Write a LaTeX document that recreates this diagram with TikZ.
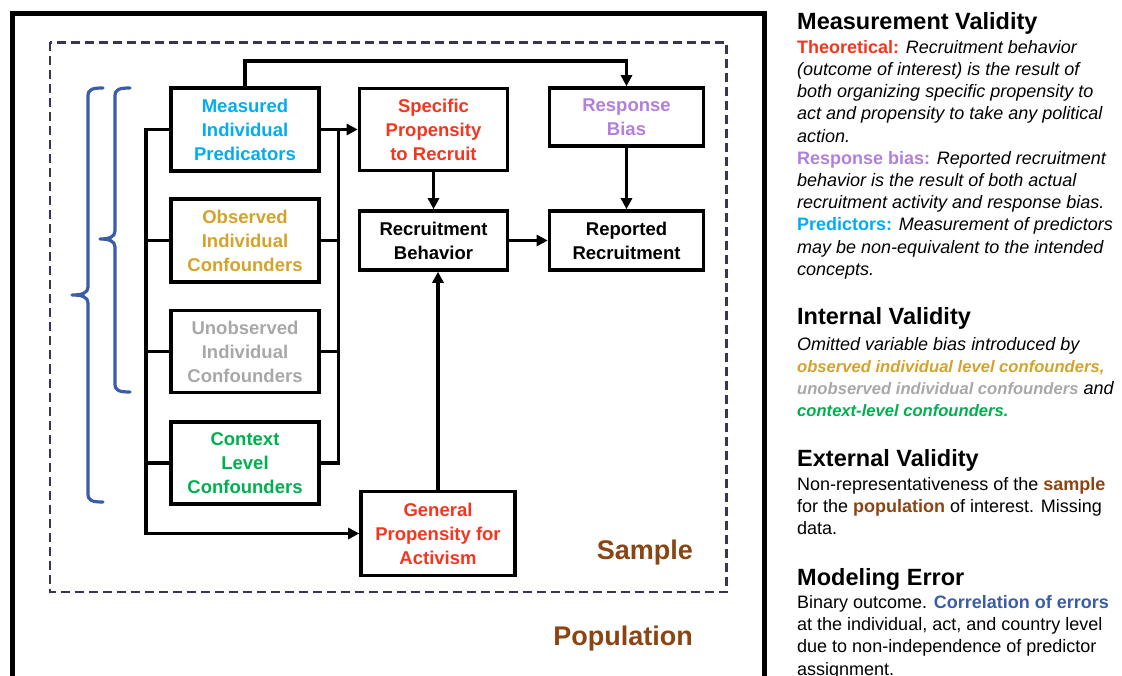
\documentclass[tikz,border=0pt]{standalone}
\usepackage{fontspec}
\setmainfont{Liberation Sans}
\usetikzlibrary{arrows.meta}

\definecolor{cred}{HTML}{F4361E}
\definecolor{ccyan}{HTML}{00AEEF}
\definecolor{cgold}{HTML}{D5A22B}
\definecolor{cgray}{HTML}{A8A8A8}
\definecolor{cgreen}{HTML}{00B050}
\definecolor{cpurple}{HTML}{B27FDB}
\definecolor{cbrown}{HTML}{8B4513}
\definecolor{cblue}{HTML}{3B5CA6}
\definecolor{cdash}{HTML}{3B3355}

\newcommand{\clab}[2]{\textbf{\textcolor{#1}{#2}}}
\newcommand{\cbi}[2]{{\fontsize{16.6}{22}\selectfont\textbf{\textit{\textcolor{#1}{#2}}}}}

\begin{document}
\begin{tikzpicture}[x=1pt,y=-1pt,
  box/.style={draw=black, line width=3.6pt, align=center, inner sep=0pt,
    font=\fontsize{18.5}{24}\selectfont\bfseries},
  conn/.style={line width=3.6pt, draw=black},
  arr/.style={conn, -{Triangle[length=11pt,width=11pt]}},
  brace/.style={draw=cblue, line width=3.2pt, line cap=round, line join=round},
  txt/.style={anchor=base west, inner sep=0pt, font=\fontsize{18}{22}\selectfont},
  head/.style={anchor=base west, inner sep=0pt, font=\fontsize{23.5}{28}\selectfont\bfseries},
  big/.style={anchor=base east, inner sep=0pt, text=cbrown, font=\fontsize{27}{32}\selectfont\bfseries}]
\useasboundingbox (0,0) rectangle (1122,676);

% population frame (open at the bottom edge)
\draw[line width=5pt, line join=miter] (12.5,690) -- (12.5,13.5) -- (764,13.5) -- (764,690);
% sample frame
\draw[cdash, line width=2.8pt, dash pattern=on 9pt off 5pt] (50,42.5) rectangle (726.5,592);

% braces
\draw[brace] (103,88) .. controls (93,88) and (88,89) .. (88,96) -- (88,287)
  .. controls (88,293) and (82,295) .. (72,295)
  .. controls (82,295) and (88,297) .. (88,303) -- (88,494)
  .. controls (88,501) and (93,502) .. (103,502);
\draw[brace] (130,88) .. controls (120,88) and (115,89) .. (115,96) -- (115,231)
  .. controls (115,237) and (109,239) .. (100,239)
  .. controls (109,239) and (115,241) .. (115,247) -- (115,384)
  .. controls (115,391) and (120,392) .. (130,392);

% boxes
\node[box, minimum width=148pt, minimum height=83pt, text=ccyan] (meas) at (245,129.5) {Measured\\Individual\\Predicators};
\node[box, minimum width=148pt, minimum height=83pt, text=cgold] (obs) at (245,240.5) {Observed\\Individual\\Confounders};
\node[box, minimum width=148pt, minimum height=82pt, text=cgray] (unobs) at (245,351.5) {Unobserved\\Individual\\Confounders};
\node[box, minimum width=148pt, minimum height=82pt, text=cgreen] (ctx) at (245,463) {Context\\Level\\Confounders};
\node[box, minimum width=148pt, minimum height=82pt, text=cred] (spec) at (433.5,129.5) {Specific\\Propensity\\to Recruit};
\node[box, minimum width=154pt, minimum height=58pt, text=cpurple] (resp) at (626.5,117) {Response\\Bias};
\node[box, minimum width=148pt, minimum height=59pt, text=black] (beh) at (433.5,240.5) {Recruitment\\Behavior};
\node[box, minimum width=154pt, minimum height=59pt, text=black] (rep) at (626.5,240.5) {Reported\\Recruitment};
\node[box, minimum width=154pt, minimum height=84pt, text=cred] (gen) at (438,533.5) {General\\Propensity for\\Activism};

% bus points
\coordinate (ttop) at (245,61);
\coordinate (lbus) at (146,533.5);
\coordinate (rtop) at (338.5,129.5);

% connectors
\draw[arr] (meas.north) -- (ttop) -| (resp.north);
\draw[arr] (meas.west) -| (lbus) -- (gen.west);
\draw[conn] (obs.west) -- (obs.west -| lbus);
\draw[conn] (unobs.west) -- (unobs.west -| lbus);
\draw[conn] (ctx.west) -- (ctx.west -| lbus);
\draw[conn] (ctx.east) -| (rtop);
\draw[conn] (obs.east) -- (obs.east -| rtop);
\draw[conn] (unobs.east) -- (unobs.east -| rtop);
\draw[arr] (meas.east) -- (spec.west);
\draw[arr] (spec.south) -- (beh.north);
\draw[arr] (resp.south) -- (rep.north);
\draw[arr] (beh.east) -- (rep.west);
\draw[arr] (gen.north) -- (gen.north |- beh.south);

% frame labels
\node[big] (samp) at (693,559.3) {Sample};
\node[big] (pop) at (693,645) {Population};

% measurement validity
\node[head] (h1) at (797,29.5) {Measurement Validity};
\node[txt] (m1) at (797,53.3) {\clab{cred}{Theoretical:} \textit{Recruitment behavior}};
\node[txt] (m2) at (797,75.5) {\textit{(outcome of interest) is the result of}};
\node[txt] (m3) at (797,97.7) {\textit{both organizing specific propensity to}};
\node[txt] (m4) at (797,119.9) {\textit{act and propensity to take any political}};
\node[txt] (m5) at (797,142.1) {\textit{action.}};
\node[txt] (m6) at (797,164.3) {\clab{cpurple}{Response bias:} \textit{Reported recruitment}};
\node[txt] (m7) at (797,186.5) {\textit{behavior is the result of both actual}};
\node[txt] (m8) at (797,208.7) {\textit{recruitment activity and response bias.}};
\node[txt] (m9) at (797,230.9) {\clab{ccyan}{Predictors:} \textit{Measurement of predictors}};
\node[txt] (m10) at (797,253.1) {\textit{may be non-equivalent to the intended}};
\node[txt] (m11) at (797,275.3) {\textit{concepts.}};

% internal validity
\node[head] (h2) at (797,325) {Internal Validity};
\node[txt] (i1) at (797,350) {\textit{Omitted variable bias introduced by}};
\node[txt] (i2) at (797,372.2) {\cbi{cgold}{observed individual level confounders,}};
\node[txt] (i3) at (797,394.4) {\cbi{cgray}{unobserved individual confounders} \textit{and}};
\node[txt] (i4) at (797,416.6) {\cbi{cgreen}{context-level confounders.}};

% external validity
\node[head] (h3) at (797,466.7) {External Validity};
\node[txt] (e1) at (797,490.5) {Non-representativeness of the \clab{cbrown}{sample}};
\node[txt] (e2) at (797,512.7) {for the \clab{cbrown}{population} of interest. Missing};
\node[txt] (e3) at (797,534.9) {data.};

% modeling error
\node[head] (h4) at (797,585) {Modeling Error};
\node[txt] (r1) at (797,608.5) {Binary outcome. \clab{cblue}{Correlation of errors}};
\node[txt] (r2) at (797,630.7) {at the individual, act, and country level};
\node[txt] (r3) at (797,652.9) {due to non-independence of predictor};
\node[txt] (r4) at (797,675.1) {assignment.};
\end{tikzpicture}
\end{document}
